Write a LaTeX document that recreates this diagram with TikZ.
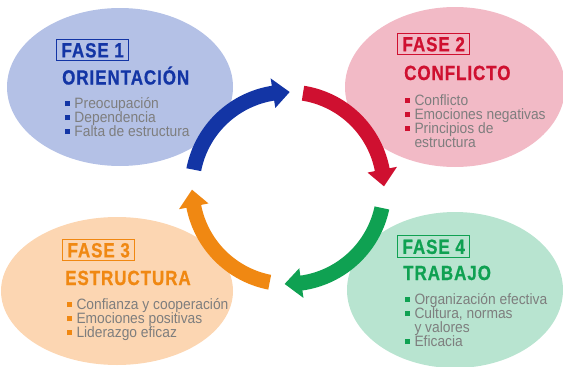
\documentclass[tikz,border=0pt]{standalone}
\usepackage{fontspec}
\setmainfont{Liberation Sans}
\newfontfamily\titlefont[FakeStretch=0.83,LetterSpace=4.5,FakeBold=0.7]{Liberation Sans}
\newfontfamily\listfont[FakeStretch=0.92]{Liberation Sans}
\usetikzlibrary{calc}
\definecolor{ebl}{HTML}{B4C1E6}
\definecolor{epk}{HTML}{F2BAC6}
\definecolor{eor}{HTML}{FCD6B2}
\definecolor{egr}{HTML}{B8E4D0}
\definecolor{cbl}{HTML}{1335A5}
\definecolor{crd}{HTML}{CF1030}
\definecolor{cor}{HTML}{F08812}
\definecolor{cgr}{HTML}{0FA152}
\definecolor{tgray}{HTML}{7E7E7E}
\newcommand\cycarrow[4]{%
  \fill[#1] plot[domain=#2:#3,samples=40] ({288+103.5*cos(\x)},{188-103.5*sin(\x)})
    -- ({288+111*cos(#3)},{188-111*sin(#3)})
    -- ({288+96*cos(#4)},{188-96*sin(#4)})
    -- ({288+81*cos(#3)},{188-81*sin(#3)})
    -- plot[domain=#3:#2,samples=40] ({288+88.5*cos(\x)},{188-88.5*sin(\x)})
    -- cycle;}
\newcommand\bul[1]{{\color{#1}\rule[2pt]{4.8pt}{4.8pt}}\hspace{4.5pt}}
\begin{document}
\begin{tikzpicture}[x=1pt,y=-1pt,
  fasebox/.style={draw=#1,text=#1,line width=1.1pt,inner xsep=5pt,inner ysep=3.5pt,
     text height=14.7pt,text depth=0pt,anchor=west,font=\titlefont\bfseries\fontsize{20.5}{20.5}\selectfont},
  phasetitle/.style={text=#1,inner sep=0pt,anchor=base west,font=\titlefont\bfseries\fontsize{20.5}{20.5}\selectfont},
  item/.style={text=tgray,inner sep=0pt,anchor=base west,font=\listfont\fontsize{15}{15}\selectfont}]
\useasboundingbox (0,0) rectangle (563,367);
\clip (0,0) rectangle (563,367);
% ellipses
\fill[ebl] (120,87) ellipse[x radius=113,y radius=79];
\fill[epk] (455,87) ellipse[x radius=110,y radius=80];
\fill[eor] (117,291) ellipse[x radius=116,y radius=74];
\fill[egr] (455,290) ellipse[x radius=108,y radius=78];
% cycle arrows
\coordinate (C) at (288,188);
\cycarrow{cbl}{169}{99}{89}
\cycarrow{crd}{81}{11}{1}
\cycarrow{cgr}{-12}{-82}{-92}
\cycarrow{cor}{-101}{-169}{-179}
% phase 1
\node[fasebox=cbl] (f1) at (56,50) {FASE 1};
\node[phasetitle=cbl] (t1) at (62,84.5) {ORIENTACIÓN};
\node[item] (i1a) at (65,108) {\bul{cbl}Preocupación};
\node[item] (i1b) at (65,122) {\bul{cbl}Dependencia};
\node[item] (i1c) at (65,136) {\bul{cbl}Falta de estructura};
% phase 2
\node[fasebox=crd] (f2) at (397,44) {FASE 2};
\node[phasetitle=crd] (t2) at (404,80) {CONFLICTO};
\node[item] (i2a) at (405,105) {\bul{crd}Conflicto};
\node[item] (i2b) at (405,119) {\bul{crd}Emociones negativas};
\node[item] (i2c) at (405,133) {\bul{crd}Principios de};
\node[item] (i2d) at (414.3,147) {estructura};
% phase 3
\node[fasebox=cor] (f3) at (62,250) {FASE 3};
\node[phasetitle=cor] (t3) at (65,285) {ESTRUCTURA};
\node[item] (i3a) at (67,309) {\bul{cor}Confianza y cooperación};
\node[item] (i3b) at (67,323) {\bul{cor}Emociones positivas};
\node[item] (i3c) at (67,337) {\bul{cor}Liderazgo eficaz};
% phase 4
\node[fasebox=cgr] (f4) at (397,246.5) {FASE 4};
\node[phasetitle=cgr] (t4) at (403,280) {TRABAJO};
\node[item] (i4a) at (405,304) {\bul{cgr}Organización efectiva};
\node[item] (i4b) at (405,318) {\bul{cgr}Cultura, normas};
\node[item] (i4c) at (414.3,332) {y valores};
\node[item] (i4d) at (405,346) {\bul{cgr}Eficacia};
\end{tikzpicture}
\end{document}
